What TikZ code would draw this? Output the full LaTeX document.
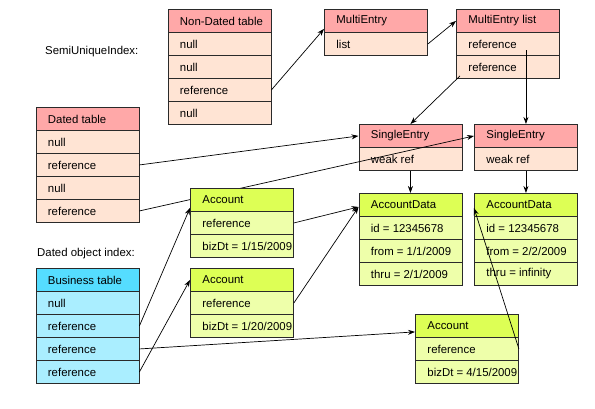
\documentclass[tikz,border=0pt]{standalone}
\usepackage{fontspec}
\setmainfont{Liberation Sans}
\usetikzlibrary{calc,arrows.meta}

\definecolor{entryhead}{HTML}{FFA8A8}
\definecolor{entryrow}{HTML}{FFE4D4}
\definecolor{acchead}{HTML}{DDFF55}
\definecolor{accrow}{HTML}{EEFFAA}
\definecolor{bizhead}{HTML}{55DDFF}
\definecolor{bizrow}{HTML}{AAEEFF}
\definecolor{rulecol}{HTML}{2A2A2A}

\tikzset{
  cellbox/.style={draw=rulecol, line width=0.9pt, minimum height=23pt,
    inner xsep=12pt, inner ysep=0pt, anchor=north west,
    font=\fontsize{11.4}{13.5}\selectfont, text=black},
  link/.style={draw=black, line width=0.7pt, -{Stealth[length=7pt,width=5pt]}},
  caption/.style={font=\fontsize{11.4}{13.5}\selectfont, anchor=west,
    inner sep=0pt, text=black},
}

% cell text: left aligned in a fixed width, long entries run to the edge
\newcommand{\celltext}[1]{\raisebox{-0.8pt}{\makebox[79pt][l]{#1}}}

% A record: header cell followed by one cell per row, stacked downwards.
% #1 name, #2 top-left corner, #3 header fill, #4 row fill, #5 header, #6 rows
\newcommand{\recordbox}[6]{%
  \node[cellbox, fill=#3] (#1-h) at (#2) {\celltext{#5}};
  \foreach \r [count=\i] in {#6} {
    \node[cellbox, fill=#4] (#1-\i) at ($(#2)+(0,\i*23)$) {\celltext{\r}};
  }%
}

\begin{document}
\begin{tikzpicture}[x=1pt,y=-1pt]
\useasboundingbox (0,0) rectangle (595,409);

\node[caption] (sui) at (45,52) {SemiUniqueIndex:};
\node[caption] (doi) at (37,254) {Dated object index:};

\recordbox{nd}{167.5,9}{entryhead}{entryrow}{Non-Dated table}{null,null,reference,null}
\recordbox{me}{324,9}{entryhead}{entryrow}{MultiEntry}{list}
\recordbox{ml}{456,9}{entryhead}{entryrow}{MultiEntry list}{reference,reference}
\recordbox{dt}{35.5,107}{entryhead}{entryrow}{Dated table}{null,reference,null,reference}
\recordbox{se1}{358.5,124}{entryhead}{entryrow}{SingleEntry}{weak ref}
\recordbox{se2}{474,124}{entryhead}{entryrow}{SingleEntry}{weak ref}
\recordbox{ad1}{358.5,193}{acchead}{accrow}{AccountData}{id = 12345678,from = 1/1/2009,thru = 2/1/2009}
\recordbox{ad2}{474,193}{acchead}{accrow}{AccountData}{id = 12345678,from = 2/2/2009,thru = infinity}
\recordbox{ac2}{190,268}{acchead}{accrow}{Account}{reference,bizDt = 1/20/2009}
\recordbox{ac3}{415,314}{acchead}{accrow}{Account}{reference,bizDt = 4/15/2009}
\recordbox{bt}{35.5,268}{bizhead}{bizrow}{Business table}{null,reference,reference,reference}

% this reference passes behind the first Account record
\draw[link] (dt-4.east) -- (se2-h.west);
\recordbox{ac1}{190,188}{acchead}{accrow}{Account}{reference,bizDt = 1/15/2009}

% semi-unique index references
\draw[link] (nd-3.east) -- ($(me-h.south west)+(0,-4)$);
\draw[link] (me-1.east) -- (ml-h.west);
\draw[link] ($(se2-h.north |- ml-1.center)+(0,6.5)$) -- (se2-h.north);
\draw[link] ($(ml-2.south west)+(4,-3)$) -- (se1-h.north);
\draw[link] (dt-2.east) -- (se1-h.west);

% dated object index references
\draw[link] (bt-2.east) -- ($(ac1-h.south west)+(0,-4)$);
\draw[link] (bt-3.east) -- ($(ac3-h.south west)+(0,-6)$);
\draw[link] (bt-4.east) -- (ac2-h.west);

% accounts to their data
\draw[link] (ac1-1.east) -- ($(ad1-h.west)+(0,2)$);
\draw[link] (ac2-1.east) -- ($(ad1-h.west)+(0,2)$);
\draw[link] (ac3-1.east) -- ($(ad2-h.west)+(0,3)$);
\draw[link] (se1-1.south) -- (ad1-h.north);
\draw[link] (se2-1.south) -- (ad2-h.north);
\end{tikzpicture}
\end{document}
